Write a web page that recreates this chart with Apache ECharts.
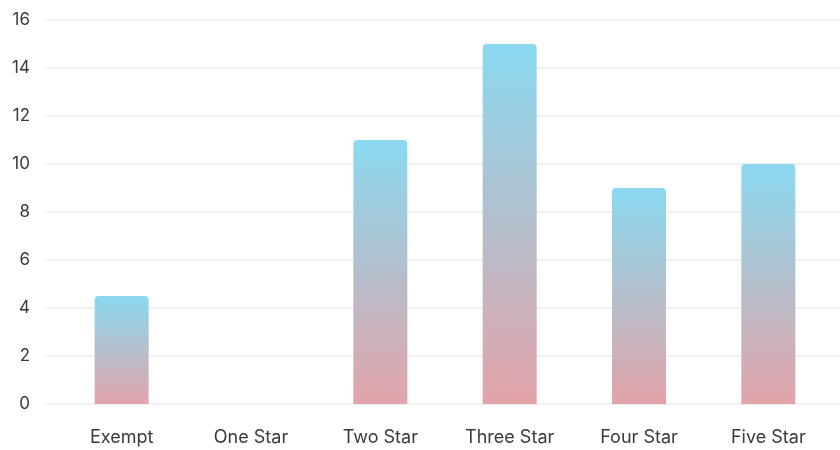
<!DOCTYPE html>
<html>
<head>
<meta charset="utf-8">
<script src="https://cdn.jsdelivr.net/npm/echarts@6/dist/echarts.min.js"></script>
<style>
  html, body { margin: 0; padding: 0; background: #fff; }
  #chart { width: 840px; height: 450px; }
</style>
</head>
<body>
<div id="chart"></div>
<script>
// Star ratings and how many fall into each
const categories = ['Exempt', 'One Star', 'Two Star', 'Three Star', 'Four Star', 'Five Star'];
const counts = [4.5, 0, 11, 15, 9, 10];
const yTicks = { min: 0, max: 16, interval: 2 };

const chart = echarts.init(document.getElementById('chart'), null, { renderer: 'canvas' });
const font = 'Inter, "Noto Sans", sans-serif';

chart.setOption({
  animation: false,
  grid: [
    // wide grid: value labels and horizontal guide lines
    { left: 46, right: 1, top: 20, bottom: 46 },
    // inner grid: bars and category labels
    { left: 57, right: 7, top: 20, bottom: 46 }
  ],
  xAxis: [
    { gridIndex: 0, type: 'value', show: false, min: 0, max: 1 },
    {
      gridIndex: 1,
      type: 'category',
      data: categories,
      axisLine: { show: false },
      axisTick: { show: false },
      axisLabel: { color: '#3a3a3a', fontFamily: font, fontSize: 18, margin: 25 }
    }
  ],
  yAxis: [
    {
      gridIndex: 0,
      type: 'value',
      min: yTicks.min, max: yTicks.max, interval: yTicks.interval,
      axisLine: { show: false },
      axisTick: { show: false },
      axisLabel: { color: '#3a3a3a', fontFamily: font, fontSize: 17, margin: 16 },
      splitLine: { lineStyle: { color: '#ececec', width: 1.5 } }
    },
    {
      gridIndex: 1,
      type: 'value',
      min: yTicks.min, max: yTicks.max, interval: yTicks.interval,
      show: false,
      splitLine: { show: false }
    }
  ],
  series: [{
    type: 'bar',
    xAxisIndex: 1,
    yAxisIndex: 1,
    data: counts,
    barWidth: 54,
    itemStyle: {
      borderRadius: [4, 4, 0, 0],
      color: new echarts.graphic.LinearGradient(0, 0, 0, 1, [
        { offset: 0, color: '#8ad9f1' },
        { offset: 0.5, color: '#b4bfcc' },
        { offset: 1, color: '#e3a3aa' }
      ])
    }
  }]
});
</script>
</body>
</html>
